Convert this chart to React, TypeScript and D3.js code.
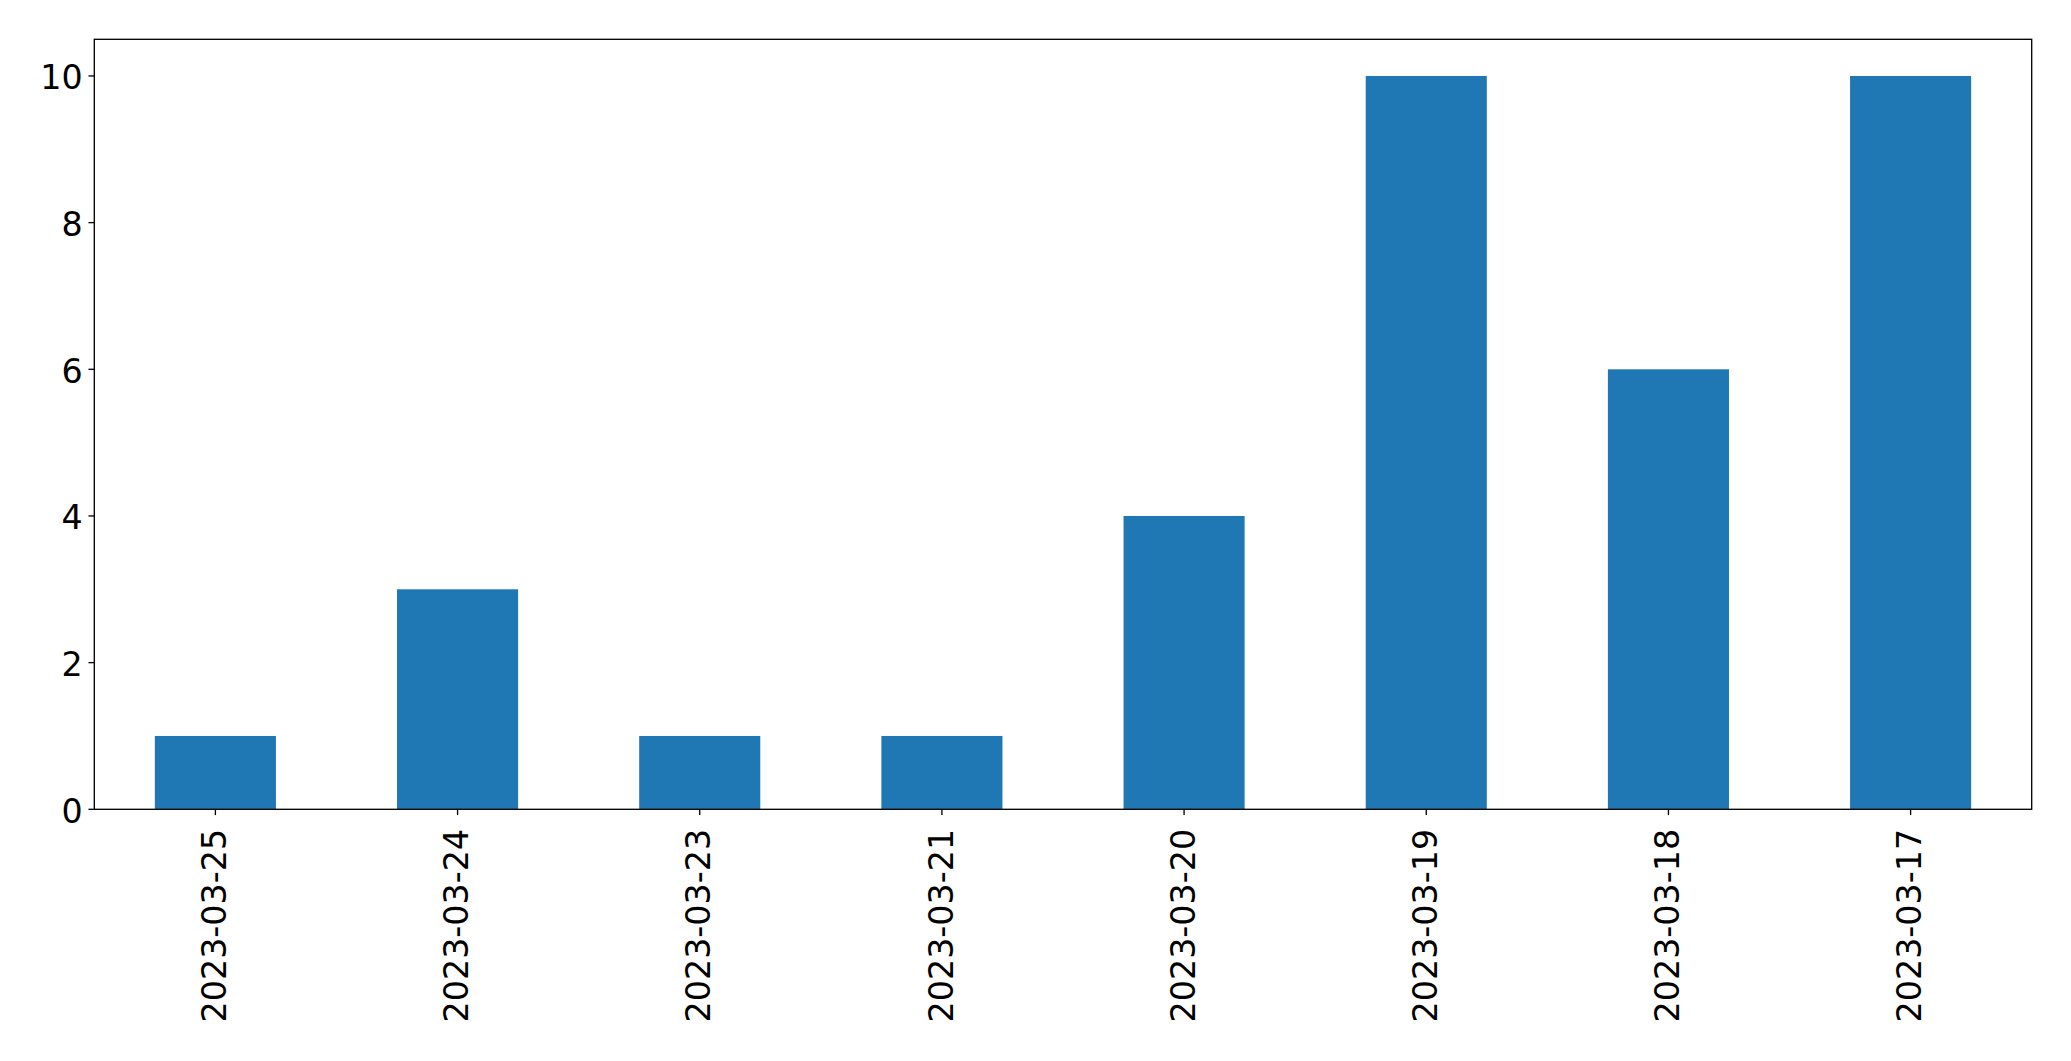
import React from "react";
import * as d3 from "d3";

const categories = ["2023-03-25", "2023-03-24", "2023-03-23", "2023-03-21", "2023-03-20", "2023-03-19", "2023-03-18", "2023-03-17"];
const values = [1, 3, 1, 1, 4, 10, 6, 10];
const yTicks = [0, 2, 4, 6, 8, 10];

const W = 2071;
const H = 1061;
const left = 94.3;
const right = 2031.7;
const top = 39.3;
const bottom = 809.3;
const fontSize = 33.3;
const tickLen = 5.8;
const pad = 5.8;
const color = "#1f77b4";
const font = "'DejaVu Sans', sans-serif";

export default function App() {
  const x = d3.scaleBand<string>().domain(categories).range([left, right]).paddingInner(0.5).paddingOuter(0.25);
  const y = d3.scaleLinear().domain([0, 10.5]).range([bottom, top]);
  return (
    <svg width={W} height={H} style={{ position: "absolute", left: 0, top: 0, background: "#fff" }} fontFamily={font}>
      <rect x={0} y={0} width={W} height={H} fill="#fff" />
      {categories.map((c, i) => (
        <rect key={c} x={x(c)!} y={y(values[i])} width={x.bandwidth()} height={y(0) - y(values[i])} fill={color} />
      ))}
      <rect x={left} y={top} width={right - left} height={bottom - top} fill="none" stroke="#000" strokeWidth={1.33} />
      {yTicks.map((t) => (
        <g key={t}>
          <line x1={left - tickLen} x2={left} y1={y(t)} y2={y(t)} stroke="#000" strokeWidth={1.33} />
          <text x={left - tickLen - pad} y={y(t) + 13.5} textAnchor="end" fontSize={fontSize} fill="#000">{t}</text>
        </g>
      ))}
      {categories.map((c) => {
        const cx = x(c)! + x.bandwidth() / 2;
        return (
          <g key={c}>
            <line x1={cx} x2={cx} y1={bottom} y2={bottom + tickLen} stroke="#000" strokeWidth={1.33} />
            <text transform={`translate(${cx},${bottom + tickLen + pad + 8}) rotate(-90)`} textAnchor="end" dy="0.32em" fontSize={fontSize} fill="#000">{c}</text>
          </g>
        );
      })}
    </svg>
  );
}
